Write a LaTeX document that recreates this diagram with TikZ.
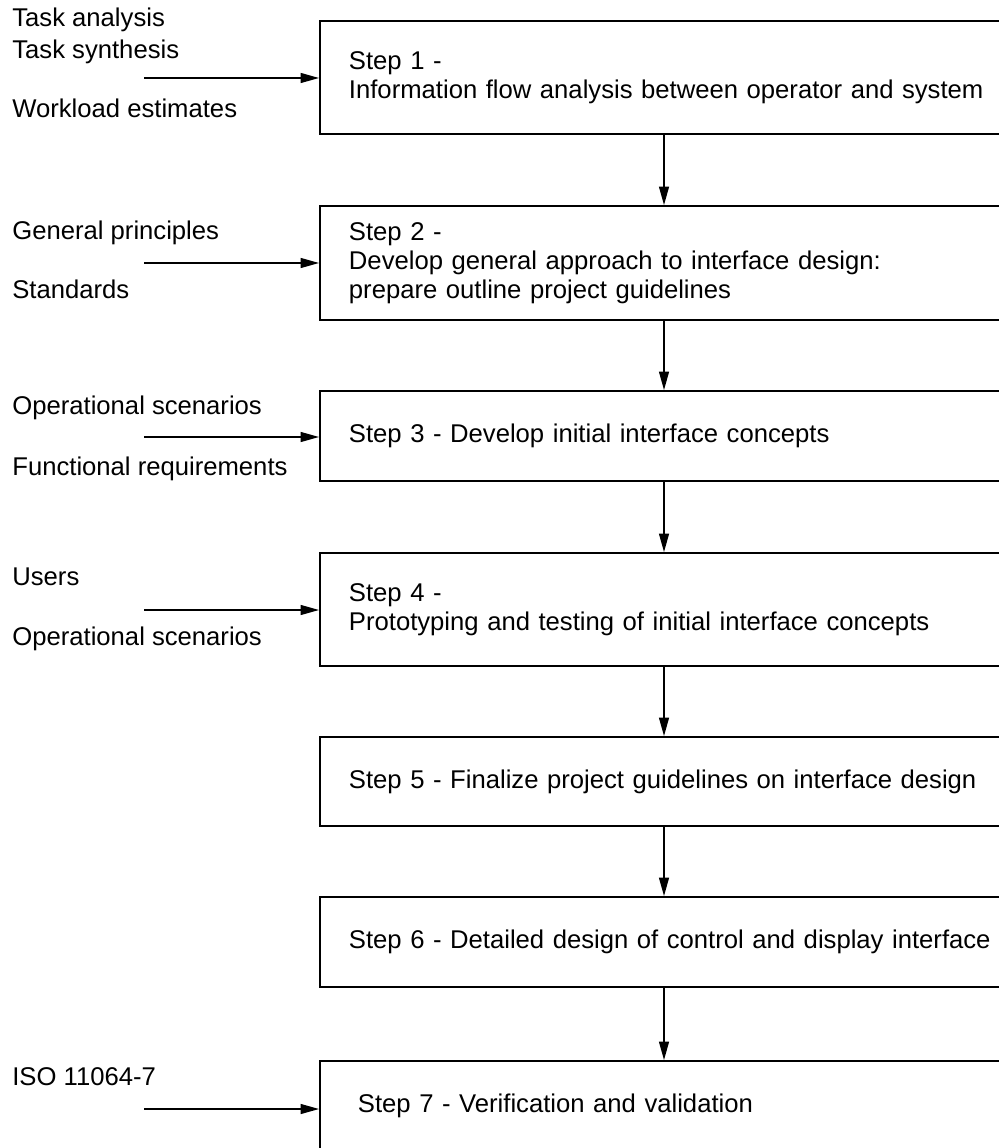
\documentclass[tikz,border=0pt]{standalone}
\usepackage{fontspec}
\setmainfont{Liberation Sans}
\usetikzlibrary{arrows.meta, positioning}

\begin{document}
\begin{tikzpicture}[x=0.02cm, y=-0.02cm,
    every node/.style={font=\fontsize{14.6}{16.6}\selectfont},
    stepbox/.style={draw, line width=1.1pt, anchor=west, align=left,
        text width=13.2cm, inner xsep=0.58cm, inner ysep=0pt},
    src/.style={anchor=base west, inner sep=0pt},
    flow/.style={-{Triangle[length=0.37cm, width=0.2cm]}, line width=0.8pt}]
% Page frame (boxes run off the right edge)
\useasboundingbox (0,0) rectangle (999,1148);
\clip (0,0) rectangle (999,1148);

% Steps
\node[stepbox, minimum height=2.26cm] (s1) at (319,77.5) {Step 1 -\\Information flow analysis between operator and system};
\node[stepbox, minimum height=2.28cm] (s2) at (319,263) {Step 2 -\\Develop general approach to interface design:\\prepare outline project guidelines};
\node[stepbox, minimum height=1.8cm] (s3) at (319,436) {Step 3 - Develop initial interface concepts};
\node[stepbox, minimum height=2.26cm] (s4) at (319,609.5) {Step 4 -\\Prototyping and testing of initial interface concepts};
\node[stepbox, minimum height=1.78cm] (s5) at (319,781.5) {Step 5 - Finalize project guidelines on interface design};
\node[stepbox, minimum height=1.8cm] (s6) at (319,942) {Step 6 - Detailed design of control and display interface};
\node[stepbox, minimum height=1.8cm, inner xsep=0.76cm] (s7) at (319,1106) {Step 7 - Verification and validation};

% Main flow
\coordinate (spine) at (664,0);
\foreach \a/\b in {s1/s2, s2/s3, s3/s4, s4/s5, s5/s6, s6/s7}
    \draw[flow] (\a.south -| spine) -- (\b.north -| spine);

% Inputs
\node[src] (task-ana) at (12,27) {Task analysis};
\node[src] (task-syn) at (12,59) {Task synthesis};
\node[src] (workload) at (12,118) {Workload estimates};
\node[src] (principles) at (12,240) {General principles};
\node[src] (standards) at (12,299) {Standards};
\node[src] (scen-a) at (12,414) {Operational scenarios};
\node[src] (func-req) at (12,475) {Functional requirements};
\node[src] (users) at (12,585) {Users};
\node[src] (scen-b) at (12,645) {Operational scenarios};
\node[src] (iso) at (12,1085) {ISO 11064-7};

\coordinate (in1) at (144,78);
\coordinate (in2) at (144,263);
\coordinate (in3) at (144,437);
\coordinate (in4) at (144,610);
\coordinate (in7) at (144,1109);
\foreach \c/\s in {in1/s1, in2/s2, in3/s3, in4/s4, in7/s7}
    \draw[flow] (\c) -- (\c -| \s.west);
\end{tikzpicture}
\end{document}
